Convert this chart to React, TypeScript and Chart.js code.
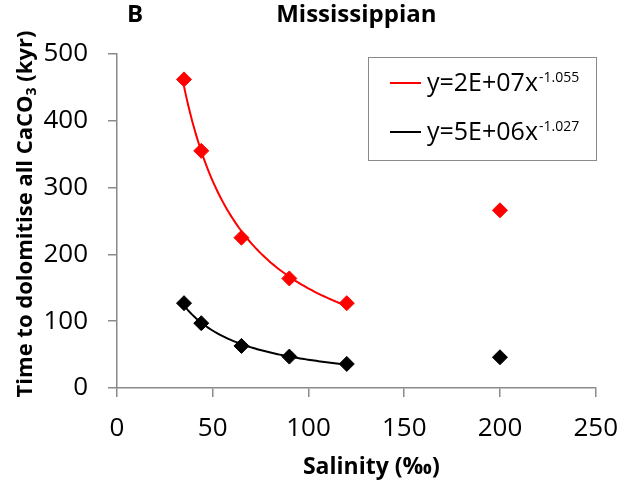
import { useEffect, useRef } from "react";
import { Chart, registerables } from "chart.js";

Chart.register(...registerables);

// Salinity (‰) of each experiment
const salinity = [35, 44, 65, 90, 120, 200];
// Time to dolomitise all CaCO3 (kyr)
const redSeries = [462, 355, 225, 164, 127, 266];
const blackSeries = [127, 97, 63, 47, 36, 46];
// the power-law trendlines are fitted to the first five salinities only
const fitCount = 5;

const xTickValues = [0, 50, 100, 150, 200, 250];
const yTickValues = [0, 100, 200, 300, 400, 500];

const panelLabel = "B";
const chartTitle = "Mississippian";
const xTitle = "Salinity (‰)";
const yTitleParts = ["Time to dolomitise all CaCO", "3", " (kyr)"];

const redEquation = { base: "y=2E+07x", exp: "-1.055" };
const blackEquation = { base: "y=5E+06x", exp: "-1.027" };

const RED = "#ff0000";
const BLACK = "#000000";
const AXIS_GREY = "#8a8a8a";
const FONT = '"Open Sans", "Noto Sans", sans-serif';

// least-squares fit of y = a * x^b in log-log space
function powerFit(xs: number[], ys: number[]) {
  const lx = xs.map(Math.log);
  const ly = ys.map(Math.log);
  const n = lx.length;
  const mx = lx.reduce((s, v) => s + v, 0) / n;
  const my = ly.reduce((s, v) => s + v, 0) / n;
  let sxy = 0;
  let sxx = 0;
  for (let i = 0; i < n; i++) {
    sxy += (lx[i] - mx) * (ly[i] - my);
    sxx += (lx[i] - mx) * (lx[i] - mx);
  }
  const b = sxy / sxx;
  const a = Math.exp(my - b * mx);
  return { a, b };
}

function trendline(xs: number[], ys: number[], steps = 80) {
  const { a, b } = powerFit(xs, ys);
  const x0 = Math.min(...xs);
  const x1 = Math.max(...xs);
  const pts: { x: number; y: number }[] = [];
  for (let i = 0; i <= steps; i++) {
    const x = x0 + ((x1 - x0) * i) / steps;
    pts.push({ x, y: a * Math.pow(x, b) });
  }
  return pts;
}

const toPoints = (xs: number[], ys: number[]) => xs.map((x, i) => ({ x, y: ys[i] }));

// titles, rotated y-axis title with subscript and the equation legend
const annotationPlugin = {
  id: "panelAnnotations",
  afterDraw(chart: any) {
    const { ctx, chartArea } = chart;
    ctx.save();
    ctx.fillStyle = "#000";

    // panel letter and title
    ctx.font = `bold 24px ${FONT}`;
    ctx.textBaseline = "alphabetic";
    ctx.textAlign = "left";
    ctx.fillText(panelLabel, chartArea.left + 10, 22);
    ctx.textAlign = "center";
    ctx.fillText(chartTitle, (chartArea.left + chartArea.right) / 2, 22);

    // x-axis title
    ctx.font = `bold 23px ${FONT}`;
    ctx.fillText(xTitle, (chartArea.left + chartArea.right) / 2 + 15, 474);

    // y-axis title, rotated, with subscripted 3
    const bigFont = `bold 22px ${FONT}`;
    const subFont = `bold 14px ${FONT}`;
    ctx.font = bigFont;
    const w0 = ctx.measureText(yTitleParts[0]).width;
    const w2 = ctx.measureText(yTitleParts[2]).width;
    ctx.font = subFont;
    const w1 = ctx.measureText(yTitleParts[1]).width;
    const total = w0 + w1 + w2;
    ctx.translate(32, (chartArea.top + chartArea.bottom) / 2 - 7);
    ctx.rotate(-Math.PI / 2);
    ctx.textAlign = "left";
    let cx = -total / 2;
    ctx.font = bigFont;
    ctx.fillText(yTitleParts[0], cx, 0);
    cx += w0;
    ctx.font = subFont;
    ctx.fillText(yTitleParts[1], cx, 4);
    cx += w1;
    ctx.font = bigFont;
    ctx.fillText(yTitleParts[2], cx, 0);
    ctx.restore();

    // legend box
    ctx.save();
    const boxLeft = chartArea.left + 251;
    const boxTop = chartArea.top + 3;
    const boxW = 228;
    const boxH = 103;
    ctx.fillStyle = "#fff";
    ctx.fillRect(boxLeft, boxTop, boxW, boxH);
    ctx.strokeStyle = AXIS_GREY;
    ctx.lineWidth = 1;
    ctx.strokeRect(boxLeft + 0.5, boxTop + 0.5, boxW, boxH);

    const rows = [
      { color: RED, eq: redEquation },
      { color: BLACK, eq: blackEquation },
    ];
    rows.forEach((row, i) => {
      const lineY = boxTop + 26 + i * 49;
      ctx.strokeStyle = row.color;
      ctx.lineWidth = 2;
      ctx.beginPath();
      ctx.moveTo(boxLeft + 22, lineY);
      ctx.lineTo(boxLeft + 53, lineY);
      ctx.stroke();

      ctx.fillStyle = "#000";
      ctx.textAlign = "left";
      ctx.textBaseline = "alphabetic";
      ctx.font = `25px ${FONT}`;
      const tx = boxLeft + 59;
      const baseY = lineY + 8;
      ctx.fillText(row.eq.base, tx, baseY);
      const bw = ctx.measureText(row.eq.base).width;
      ctx.font = `14px ${FONT}`;
      ctx.fillText(row.eq.exp, tx + bw + 1, baseY - 9);
    });
    ctx.restore();
  },
};

export default function App() {
  const canvasRef = useRef<HTMLCanvasElement | null>(null);

  useEffect(() => {
    const canvas = canvasRef.current;
    if (!canvas) return;

    const fitX = salinity.slice(0, fitCount);
    const markerStyle = {
      pointStyle: "rectRot" as const,
      pointRadius: 7.5,
      pointHoverRadius: 7.5,
      borderWidth: 1,
      showLine: false,
    };

    const chart = new Chart(canvas, {
      type: "scatter",
      data: {
        datasets: [
          {
            label: "red trend",
            data: trendline(fitX, redSeries.slice(0, fitCount)),
            showLine: true,
            borderColor: RED,
            borderWidth: 2,
            pointRadius: 0,
            tension: 0,
            order: 3,
          },
          {
            label: "black trend",
            data: trendline(fitX, blackSeries.slice(0, fitCount)),
            showLine: true,
            borderColor: BLACK,
            borderWidth: 2,
            pointRadius: 0,
            tension: 0,
            order: 3,
          },
          {
            label: "red",
            data: toPoints(salinity, redSeries),
            backgroundColor: RED,
            borderColor: RED,
            order: 1,
            ...markerStyle,
          },
          {
            label: "black",
            data: toPoints(salinity, blackSeries),
            backgroundColor: BLACK,
            borderColor: BLACK,
            order: 1,
            ...markerStyle,
          },
        ],
      },
      options: {
        responsive: false,
        animation: false,
        events: [],
        layout: { padding: { top: 54, right: 25, left: 0, bottom: 0 } },
        plugins: {
          legend: { display: false },
          title: { display: false },
          tooltip: { enabled: false },
        },
        scales: {
          x: {
            type: "linear",
            min: 0,
            max: 250,
            afterBuildTicks: (scale: any) => {
              scale.ticks = xTickValues.map((value) => ({ value }));
            },
            afterFit: (scale: any) => {
              scale.height = 92;
            },
            ticks: {
              font: { family: FONT, size: 26 },
              color: "#000",
              padding: 16,
              maxRotation: 0,
            },
            grid: {
              display: true,
              drawOnChartArea: false,
              drawTicks: true,
              tickLength: 9,
              color: AXIS_GREY,
              lineWidth: 1.5,
            },
            border: { display: true, color: AXIS_GREY, width: 1.5 },
          },
          y: {
            type: "linear",
            min: 0,
            max: 500,
            afterBuildTicks: (scale: any) => {
              scale.ticks = yTickValues.map((value) => ({ value }));
            },
            afterFit: (scale: any) => {
              scale.width = 117;
            },
            ticks: {
              font: { family: FONT, size: 26 },
              color: "#000",
              padding: 20,
            },
            grid: {
              display: true,
              drawOnChartArea: false,
              drawTicks: true,
              tickLength: 9,
              color: AXIS_GREY,
              lineWidth: 1.5,
            },
            border: { display: true, color: AXIS_GREY, width: 1.5 },
          },
        },
      },
      plugins: [annotationPlugin],
    });

    return () => chart.destroy();
  }, []);

  return (
    <div style={{ position: "fixed", left: 0, top: 0, width: 634, height: 480, background: "#fff" }}>
      <canvas ref={canvasRef} width={634} height={480} style={{ display: "block" }} />
    </div>
  );
}
